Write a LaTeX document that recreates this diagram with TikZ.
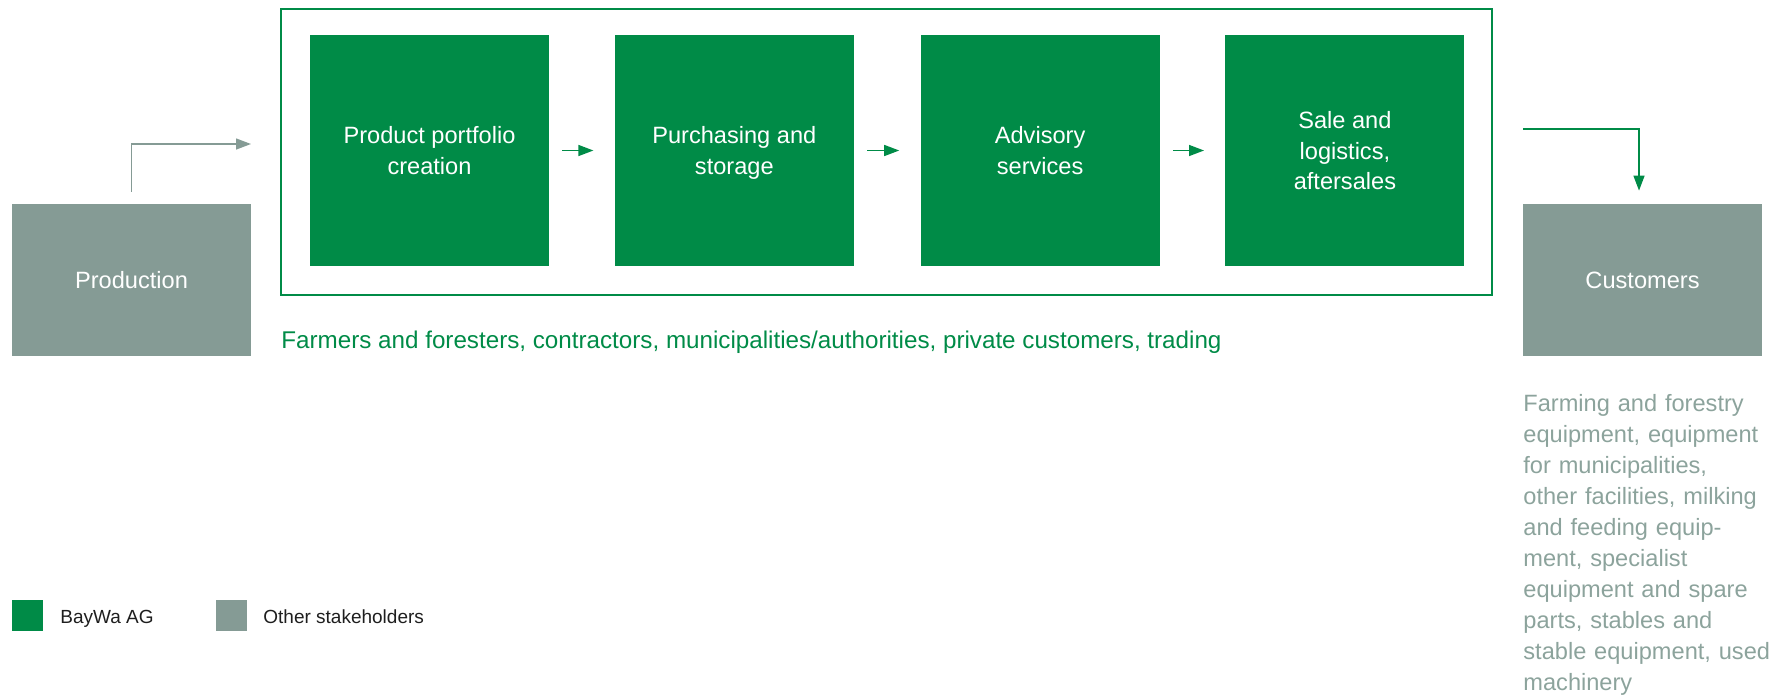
\documentclass[tikz,border=0pt]{standalone}
\usepackage{fontspec}
\setmainfont{Liberation Sans}
\usetikzlibrary{arrows.meta,positioning}
\definecolor{baywagreen}{RGB}{0,139,71}
\definecolor{stakegray}{RGB}{133,155,149}
\definecolor{desctext}{RGB}{140,163,156}
\definecolor{legendtext}{RGB}{30,30,30}
\newcommand{\stagetop}{\rule{0pt}{13.2pt}}
\tikzset{
  stage/.style={fill=baywagreen, text=white, minimum width=119.5pt,
    minimum height=115.5pt, inner sep=0pt, align=center,
    font=\fontsize{11.8}{15.4}\selectfont},
  party/.style={fill=stakegray, text=white, minimum width=119.5pt,
    minimum height=76pt, inner sep=0pt, font=\fontsize{11.8}{15.4}\selectfont},
  flow/.style={-{Triangle[length=7.5pt,width=5.5pt]}, line width=0.7pt},
  legendbox/.style={minimum size=15.5pt, inner sep=0pt},
  legendlabel/.style={anchor=base west, inner sep=0pt, text=legendtext,
    font=\fontsize{9.5}{11}\selectfont},
}

\begin{document}
\begin{tikzpicture}[x=0.5pt,y=-0.5pt]
    \useasboundingbox (0,0) rectangle (1786,697);

    % BayWa frame
    \draw[baywagreen, line width=1.25pt] (281,9) rectangle (1492,295);

    % Value chain stages
    \node[stage] (portfolio) at (429.5,150.5) {\stagetop Product portfolio\\creation\strut};
    \node[stage, right=32.5pt of portfolio] (purchasing) {\stagetop Purchasing and\\storage\strut};
    \node[stage, right=33pt of purchasing] (advisory) {\stagetop Advisory\\services\strut};
    \node[stage, right=32.5pt of advisory] (sale) {\stagetop Sale and\\logistics,\\aftersales\strut};

    \draw[flow, baywagreen, shorten <=6.5pt, shorten >=10.5pt] (portfolio) -- (purchasing);
    \draw[flow, baywagreen, shorten <=6.5pt, shorten >=10.5pt] (purchasing) -- (advisory);
    \draw[flow, baywagreen, shorten <=6.5pt, shorten >=10.5pt] (advisory) -- (sale);

    % Other stakeholders
    \node[party] (production) at (131.5,280) {Production};
    \node[party] (customers) at (1642.5,280) {Customers};

    \coordinate (framein) at (251,144);
    \coordinate (frameout) at (1523,129);
    \draw[flow, stakegray] ([yshift=6pt]production.north) |- (framein);
    \draw[flow, baywagreen] (frameout) -| ([xshift=-1.75pt,yshift=6.5pt]customers.north);

    % Texts
    \node[anchor=base west, inner sep=0pt, text=baywagreen,
      font=\fontsize{12.1}{15.4}\selectfont] (markets) at (281,348)
      {Farmers and foresters, contractors, municipalities/authorities, private customers, trading};
    \node[anchor=base west, inner sep=0pt, text=desctext, text width=125pt, align=left,
      font=\fontsize{11.8}{15.55}\selectfont] (range) at (1523,411)
      {Farming and forestry\\equipment, equipment\\for municipalities,\\other facilities, milking\\and feeding equip-\\ment, specialist\\equipment and spare\\parts, stables and\\stable equipment, used\\machinery};

    % Legend
    \node[legendbox, fill=baywagreen] (legbaywa) at (27.5,615.5) {};
    \node[legendlabel] (legbaywatext) at (60,623) {BayWa AG};
    \node[legendbox, fill=stakegray] (legother) at (231.5,615.5) {};
    \node[legendlabel] (legothertext) at (263,623) {Other stakeholders};
\end{tikzpicture}
\end{document}
